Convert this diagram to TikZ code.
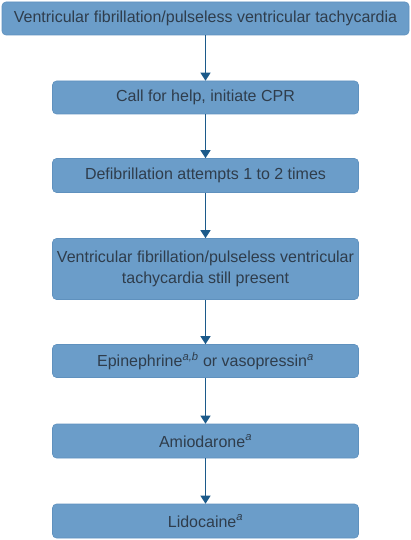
\documentclass[tikz,border=0pt]{standalone}
\usepackage{fontspec}
\setmainfont{Liberation Sans}
\usetikzlibrary{arrows.meta}
\definecolor{boxfill}{HTML}{6B9DC9}
\definecolor{boxline}{HTML}{5F91BE}
\definecolor{arrowc}{HTML}{1C5A8A}
\definecolor{txt}{HTML}{2F3D4C}
\tikzset{
  flowbox/.style={rectangle, rounded corners=4pt, fill=boxfill, draw=boxline, line width=0.6pt,
    text=txt, font=\fontsize{16}{21}\selectfont, align=center, inner sep=0pt},
  flowarrow/.style={draw=arrowc, line width=1.2pt, -{Triangle[length=8pt,width=10pt]}}
}
\begin{document}
\begin{tikzpicture}[x=1pt,y=-1pt]
\useasboundingbox (0,0) rectangle (411,540);
\node[flowbox, minimum width=407pt, minimum height=33pt] (b1) at (205.5,18.5) {Ventricular fibrillation/pulseless ventricular tachycardia};
\node[flowbox, minimum width=306pt, minimum height=33pt] (b2) at (205.5,97.5) {Call for help, initiate CPR};
\node[flowbox, minimum width=306pt, minimum height=34pt] (b3) at (205.5,175.5) {Defibrillation attempts 1 to 2 times};
\node[flowbox, minimum width=306pt, minimum height=61pt] (b4) at (205.5,269) {Ventricular fibrillation/pulseless ventricular\\tachycardia still present};
\node[flowbox, minimum width=306pt, minimum height=33pt] (b5) at (205.5,361) {Epinephrine\textsuperscript{\itshape a,b} or vasopressin\textsuperscript{\itshape a}};
\node[flowbox, minimum width=306pt, minimum height=34pt] (b6) at (205.5,441) {Amiodarone\textsuperscript{\itshape a}};
\node[flowbox, minimum width=306pt, minimum height=34pt] (b7) at (205.5,521) {Lidocaine\textsuperscript{\itshape a}};
\foreach \a/\b in {b1/b2,b2/b3,b3/b4,b4/b5,b5/b6,b6/b7}
  \draw[flowarrow] (\a.south) -- (\b.north);
\end{tikzpicture}
\end{document}
